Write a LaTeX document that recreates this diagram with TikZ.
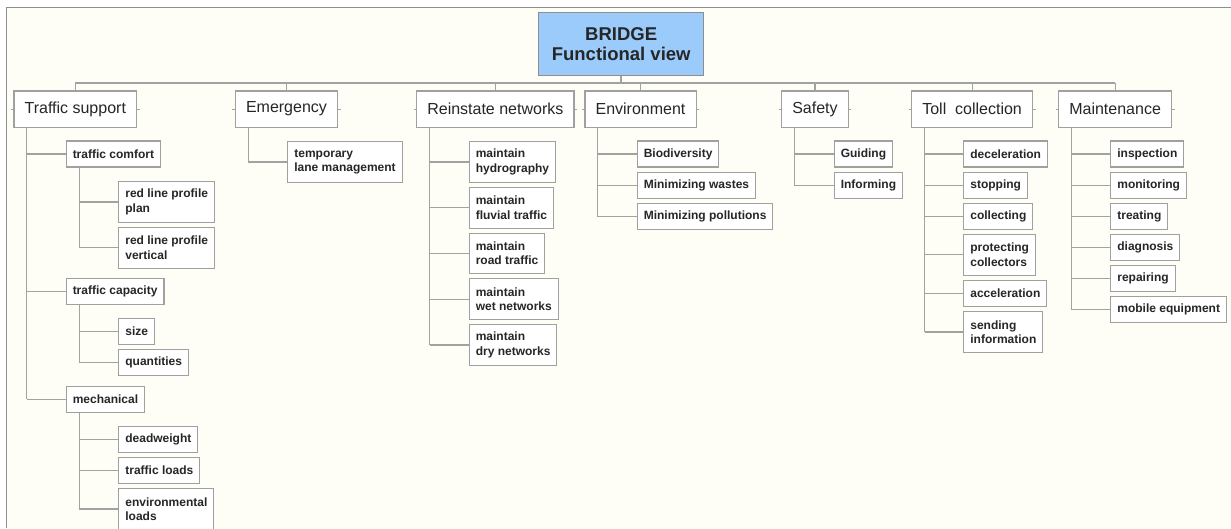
\documentclass[tikz,border=0pt]{standalone}
\usepackage{fontspec}
\setmainfont{Liberation Sans}
\usetikzlibrary{calc,backgrounds}
\definecolor{paper}{HTML}{FFFEF6}
\definecolor{framegray}{HTML}{8E8E8E}
\definecolor{linkgray}{HTML}{A2A2A2}
\definecolor{boxgray}{HTML}{A0A0A0}
\definecolor{rootblue}{HTML}{9BCBFB}
\definecolor{ink}{HTML}{262626}
\tikzset{
  rootbox/.style={draw=framegray, line width=1.2pt, fill=rootblue, align=center,
    minimum width=165pt, minimum height=63pt, inner sep=0pt, text=ink,
    font=\fontsize{18.5}{20.5}\selectfont\bfseries},
  topbox/.style={draw=boxgray, line width=1.2pt, fill=white, anchor=north west,
    minimum height=36.4pt, inner xsep=10.7pt, inner ysep=0pt, text=ink,
    font=\fontsize{16}{19}\selectfont},
  leafbox/.style={draw=boxgray, line width=1.1pt, fill=white, anchor=west, align=left,
    minimum height=26pt, inner xsep=6.5pt, inner ysep=2pt, text=ink,
    font=\fontsize{12}{14.3}\selectfont\bfseries},
  twoline/.style={minimum height=40.7pt},
  link/.style={draw=linkgray, line width=1.2pt},
  buslink/.style={draw=linkgray, line width=1.6pt},
  handle/.style={draw=linkgray, line width=1pt},
}
\begin{document}
\begin{tikzpicture}[x=1pt, y=-1pt]
\useasboundingbox (0,0) rectangle (1231,528);
\clip (0,0) rectangle (1231,528);

% root
\node[rootbox] (root) at (621.2,44.2) {BRIDGE\\Functional view};

% main functions
\node[topbox] (ts)   at (13.3,90.3)  {Traffic support};
\node[topbox] (em)   at (234.7,90.3) {Emergency};
\node[topbox] (rn)   at (416,90.3)   {Reinstate networks};
\node[topbox] (en)   at (584.3,90.3) {Environment};
\node[topbox] (sf)   at (781,90.3)   {Safety};
\node[topbox] (toll) at (911,90.3)   {Toll~~collection};
\node[topbox] (mt)   at (1058,90.3)  {Maintenance};

% Traffic support
\node[leafbox] (tcom) at (65.7,154) {traffic comfort};
\node[leafbox,twoline] (rlp) at (118.3,202) {red line profile\\plan};
\node[leafbox,twoline] (rlv) at (118.3,247.7) {red line profile\\vertical};
\node[leafbox] (tcap) at (65.7,291.3) {traffic capacity};
\node[leafbox] (size) at (118.3,331.5) {size};
\node[leafbox] (qty)  at (118.3,362.7) {quantities};
\node[leafbox] (mech) at (65.7,399.2) {mechanical};
\node[leafbox] (dw)   at (118.3,439.2) {deadweight};
\node[leafbox] (tl)   at (118.3,470.3) {traffic loads};
\node[leafbox,twoline] (envl) at (118.3,509) {environmental\\loads};

% Emergency
\node[leafbox,twoline] (tlm) at (287.3,161.9) {temporary\\lane management};

% Reinstate networks
\node[leafbox,twoline] (mh) at (468.7,161.9) {maintain\\hydrography};
\node[leafbox,twoline] (mf) at (468.7,207.7) {maintain\\fluvial traffic};
\node[leafbox,twoline] (mr) at (468.7,253.4) {maintain\\road traffic};
\node[leafbox,twoline] (mw) at (468.7,299.2) {maintain\\wet networks};
\node[leafbox,twoline] (md) at (468.7,345)   {maintain\\dry networks};

% Environment
\node[leafbox] (bio) at (636.7,154)   {Biodiversity};
\node[leafbox] (mws) at (636.7,185.7) {Minimizing wastes};
\node[leafbox] (mpl) at (636.7,216.5) {Minimizing pollutions};

% Safety
\node[leafbox] (gd)  at (833.7,154)   {Guiding};
\node[leafbox] (inf) at (833.7,185.7) {Informing};

% Toll collection
\node[leafbox] (dec) at (963.3,154)   {deceleration};
\node[leafbox] (stp) at (963.3,185.7) {stopping};
\node[leafbox] (col) at (963.3,216.5) {collecting};
\node[leafbox,twoline] (pro) at (963.3,254.7) {protecting\\collectors};
\node[leafbox] (acc) at (963.3,293.3) {acceleration};
\node[leafbox,twoline] (snd) at (963.3,331.9) {sending\\information};

% Maintenance
\node[leafbox] (ins) at (1110.3,154)   {inspection};
\node[leafbox] (mon) at (1110.3,185.7) {monitoring};
\node[leafbox] (trt) at (1110.3,216.5) {treating};
\node[leafbox] (dia) at (1110.3,247.3) {diagnosis};
\node[leafbox] (rep) at (1110.3,278.7) {repairing};
\node[leafbox] (mob) at (1110.3,309.7) {mobile equipment};

\begin{scope}[on background layer]
  % sheet and its frame
  \fill[white] (0,0) rectangle (1231,528);
  \fill[paper] (6.5,7.5) rectangle (1231,528);
  \draw[framegray, line width=1.2pt] (6.5,528) -- (6.5,7.5) -- (1231,7.5);

  % bus from the root to the main functions
  \coordinate (bus) at (621.2,83);
  \draw[buslink] (root.south) -- (root.south |- bus);
  \draw[buslink] (ts.north |- bus) -- (mt.north |- bus);
  \foreach \n in {ts,em,rn,en,sf,toll,mt}{
    \draw[link] (\n.north |- bus) -- (\n.north);
    \draw[handle] (\n.west) -- ++(-2.5,0);
    \draw[handle] (\n.east) -- ++(2.5,0);
  }

  % tree links: a spine under each parent, one branch per child
  \foreach \p/\last/\kids in {ts/mech/{tcom,tcap,mech}, tcom/rlv/{rlp,rlv},
      tcap/qty/{size,qty}, mech/envl/{dw,tl,envl}, em/tlm/{tlm},
      rn/md/{mh,mf,mr,mw,md}, en/mpl/{bio,mws,mpl}, sf/inf/{gd,inf},
      toll/snd/{dec,stp,col,pro,acc,snd}, mt/mob/{ins,mon,trt,dia,rep,mob}}{
    \coordinate (\p-spine) at ($(\p.south west)+(13.5,0)$);
    \draw[link] (\p-spine) -- (\p-spine |- \last.west);
    \foreach \c in \kids{
      \draw[link] (\p-spine |- \c.west) -- (\c.west);
    }
  }
\end{scope}
\end{tikzpicture}
\end{document}
